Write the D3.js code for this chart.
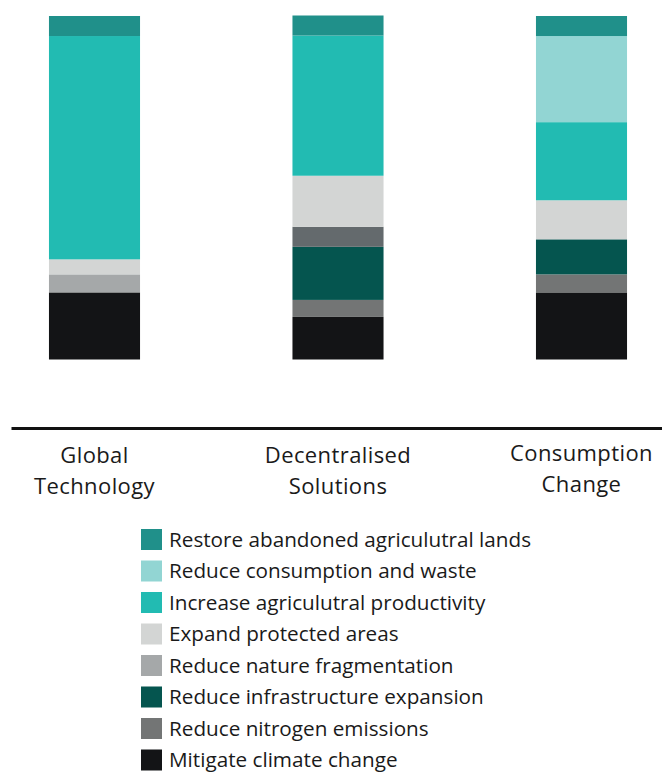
<!DOCTYPE html>
<html>
<head>
<meta charset="utf-8">
<script src="https://cdn.jsdelivr.net/npm/d3@7"></script>
<style>
  html, body { margin: 0; padding: 0; background: #fff; }
  svg { display: block; }
  text { font-family: "Open Sans", Lato, sans-serif; fill: #1a1a1a; }
</style>
</head>
<body>
<div id="chart"></div>
<script>
// ---- data ----
const categories = ["Global Technology", "Decentralised Solutions", "Consumption Change"];
const categoryLines = [["Global", "Technology"], ["Decentralised", "Solutions"], ["Consumption", "Change"]];
const seriesNames = [
  "Restore abandoned agriculutral lands",
  "Reduce consumption and waste",
  "Increase agriculutral productivity",
  "Expand protected areas",
  "Reduce nature fragmentation",
  "Reduce infrastructure expansion",
  "Reduce nitrogen emissions",
  "Mitigate climate change"
];
// relative contributions (legend order, top to bottom)
const restoreLands      = [20, 20, 20];
const reduceConsumption = [0, 0, 86];
const increaseProd      = [223, 140, 78];
const expandProtected   = [15, 51, 39];
const reduceFragment    = [18, 20, 0];
const reduceInfra       = [0, 53, 35];
const reduceNitrogen    = [0, 17, 18];
const mitigateClimate   = [67, 42.5, 67];

const seriesValues = [restoreLands, reduceConsumption, increaseProd, expandProtected,
                      reduceFragment, reduceInfra, reduceNitrogen, mitigateClimate];

const colors = ["#20908a", "#92d5d3", "#22bbb2", "#d3d5d4", "#a5a8a9", "#05554f", "#737575", "#131416"];
const cellColorOverride = { "Decentralised Solutions|Reduce nature fragmentation": "#646a6d" };

// ---- layout ----
const W = 662, H = 773;
const svg = d3.select("#chart").append("svg").attr("width", W).attr("height", H);

const x = d3.scaleBand().domain(categories).range([-27.25, 703.25])
  .paddingInner(0.626).paddingOuter(0.313);

const y = d3.scaleLinear().domain([0, 343]).range([359.5, 16]);

const color = d3.scaleOrdinal().domain(seriesNames).range(colors);

const table = categories.map((c, i) => {
  const row = { category: c };
  seriesNames.forEach((s, j) => row[s] = seriesValues[j][i]);
  return row;
});
const stackOrder = seriesNames.slice().reverse();
const stacked = d3.stack().keys(stackOrder)(table);

svg.append("g").selectAll("g")
  .data(stacked)
  .join("g")
  .each(function(layer) {
    d3.select(this).selectAll("rect")
      .data(layer.filter(d => d[1] - d[0] > 0))
      .join("rect")
      .attr("x", d => x(d.data.category))
      .attr("width", x.bandwidth())
      .attr("y", d => y(d[1]))
      .attr("height", d => y(d[0]) - y(d[1]))
      .attr("fill", d => cellColorOverride[d.data.category + "|" + layer.key] || color(layer.key));
  });

// baseline axis line
const axisScale = d3.scaleLinear().domain([0, 1]).range([11, 662]);
const axisG = svg.append("g").attr("transform", "translate(0,428)")
  .call(d3.axisBottom(axisScale).ticks(0).tickSize(0).tickSizeOuter(0).tickFormat(""));
axisG.select(".domain").attr("stroke", "#111").attr("stroke-width", 3);

// category labels
const labelG = svg.append("g");
categories.forEach((c, i) => {
  const cx = x(c) + x.bandwidth() / 2;
  const t = labelG.append("text")
    .attr("text-anchor", "middle")
    .attr("x", cx)
    .attr("y", i === 2 ? 461 : 463)
    .style("font-size", "22px")
    .style("letter-spacing", "0.4px");
  categoryLines[i].forEach((ln, k) => {
    t.append("tspan").attr("x", cx).attr("dy", k === 0 ? 0 : 31).text(ln);
  });
});

// legend
const legend = svg.append("g").attr("transform", "translate(141,529)");
const rows = legend.selectAll("g").data(seriesNames).join("g")
  .attr("transform", (d, i) => `translate(0,${i * 31.5})`);
rows.append("rect").attr("width", 21).attr("height", 21).attr("fill", d => color(d));
rows.append("text").attr("x", 28).attr("y", 17.5).style("font-size", "20.7px").text(d => d);
</script>
</body>
</html>
